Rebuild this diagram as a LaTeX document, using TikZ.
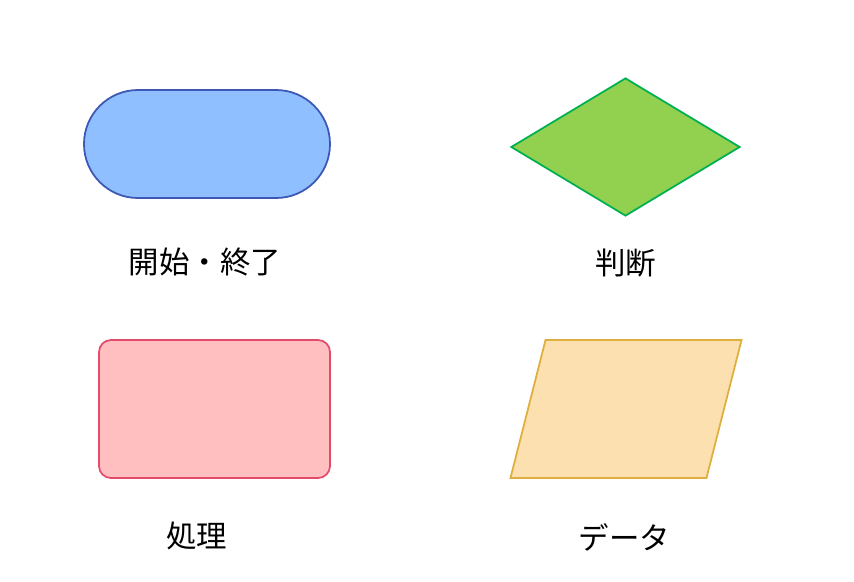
\documentclass[tikz,border=0pt]{standalone}
\usepackage{fontspec}
\newfontfamily\jpfont{Noto Sans CJK JP}
\usepackage{xcolor}
\usepackage{tikz}
\usetikzlibrary{shapes.geometric,positioning}

\definecolor{startfill}{RGB}{143,191,255}
\definecolor{startline}{RGB}{60,88,180}
\definecolor{decfill}{RGB}{146,208,80}
\definecolor{decline}{RGB}{0,176,80}
\definecolor{procfill}{RGB}{255,190,192}
\definecolor{procline}{RGB}{226,76,106}
\definecolor{datafill}{RGB}{252,224,176}
\definecolor{dataline}{RGB}{222,174,62}

\begin{document}
\begin{tikzpicture}[x=0.03cm,y=-0.03cm,on grid,line width=1.5pt,
    lbl/.style={font=\jpfont\fontsize{26}{30}\selectfont,inner sep=0pt}]

            \useasboundingbox (0,0) rectangle (854,582);

            \node (term) at (207,144) [draw=startline,fill=startfill,rectangle,rounded corners=1.62cm,
                minimum width=7.38cm,minimum height=3.24cm,inner sep=0pt] {};
            \node (dec) at (625.5,147) [draw=decline,fill=decfill,diamond,aspect=1.66,
                minimum width=6.87cm,minimum height=4.14cm,inner sep=0pt] {};
            \node (proc) at (214.5,409) [draw=procline,fill=procfill,rectangle,rounded corners=0.36cm,
                minimum width=6.93cm,minimum height=4.14cm,inner sep=0pt] {};
            \node (data) at (626,409) [draw=dataline,fill=datafill,rectangle,xslant=0.254,transform shape,
                minimum width=5.88cm,minimum height=4.14cm,inner sep=0pt] {};

            \node (termlbl) [lbl,below=3.54cm of term,xshift=-0.06cm] {開始・終了};
            \node (declbl) [lbl,below=3.48cm of dec] {判断};
            \node (proclbl) [lbl,below=3.81cm of proc,xshift=-0.53cm] {処理};
            \node (datalbl) [lbl,below=3.84cm of data,xshift=-0.05cm] {データ};

        \end{tikzpicture}
\end{document}
